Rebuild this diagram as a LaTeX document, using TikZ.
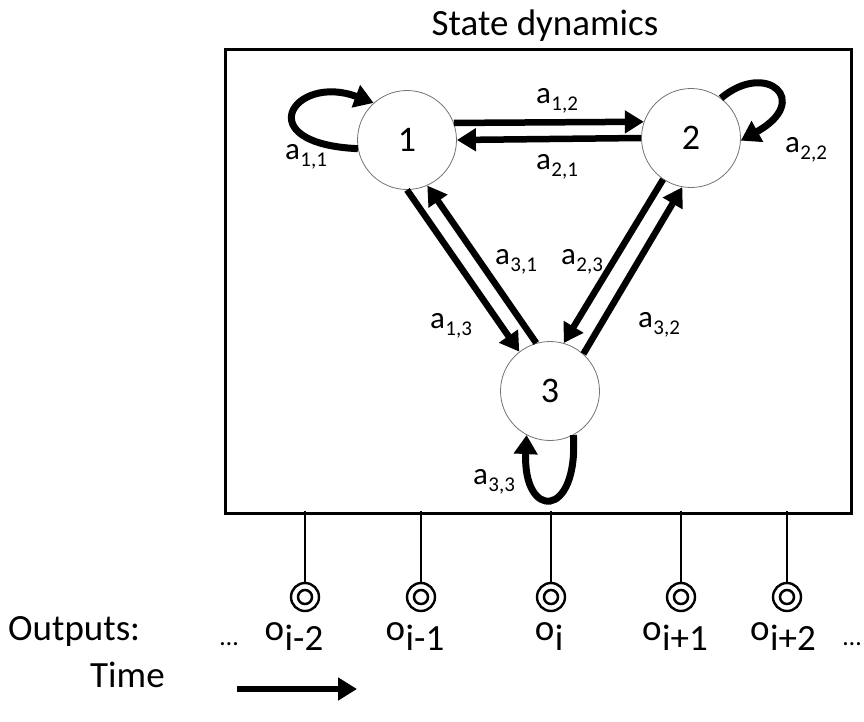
\documentclass[tikz,border=0pt]{standalone}
\usepackage{fontspec}
\setmainfont{Carlito}
\usetikzlibrary{arrows.meta}
\newcommand\asub[2]{#1\kern0.5pt\raisebox{-7pt}{\fontsize{21}{21}\selectfont #2}}
\newcommand\osub[1]{o\kern0.5pt\raisebox{-10pt}{#1}}
\begin{document}
\begin{tikzpicture}[x=1pt,y=-1pt,
  state/.style={circle, draw=black!55, line width=0.8pt, minimum size=99pt, inner sep=0pt, font=\fontsize{36}{36}\selectfont},
  arr/.style={line width=6.5pt, -{Triangle[length=19pt,width=22pt]}},
  loopar/.style={line width=7pt, -{Triangle[length=19pt,width=23pt]}},
  lab/.style={font=\fontsize{31}{31}\selectfont, inner sep=0pt},
  big/.style={font=\fontsize{37}{37}\selectfont, inner sep=0pt},
  dots/.style={font=\fontsize{26}{26}\selectfont, inner sep=0pt},
  stem/.style={line width=2.5pt},
  mk/.style={circle, draw, line width=2.4pt, minimum size=28pt, inner sep=0pt},
  frame/.style={draw, line width=3pt, inner sep=0pt}
]
\useasboundingbox (0,0) rectangle (864,721);

% title and frame
\node[big, anchor=base] (title) at (545,35) {State dynamics};
\node[frame, minimum width=626pt, minimum height=464pt] (box) at (538,281) {};

% states
\node[state] (n1) at (407,140) {1};
\node[state] (n2) at (691,138) {2};
\node[state] (n3) at (550,391) {3};

% transitions
\draw[arr] (n1.20) -- (n2.161);
\draw[arr] (n2.180) -- (n1.0);
\draw[arr] (n1.270) -- (n3.128);
\draw[arr] (n3.106) -- (n1.294);
\draw[arr] (n2.236) -- (n3.74);
\draw[arr] (n3.48) -- (n2.260);

% self loops
\draw[loopar] (n1.190) .. controls +(-110,-5) and +(-80,-30) .. (n1.132);
\draw[loopar] (n2.53) .. controls +(45,-38) and +(72,-40) .. (n2.-3);
\draw[loopar] (n3.-62) .. controls +(5,85) and +(-4,85) .. (n3.-118);

% transition labels
\node[lab] (l12) at (557,101) {\asub{a}{1,2}};
\node[lab] (l21) at (557,167) {\asub{a}{2,1}};
\node[lab] (l11) at (306,157) {\asub{a}{1,1}};
\node[lab] (l22) at (806,150) {\asub{a}{2,2}};
\node[lab] (l31) at (516,262) {\asub{a}{3,1}};
\node[lab] (l23) at (582,262) {\asub{a}{2,3}};
\node[lab] (l13) at (451,326) {\asub{a}{1,3}};
\node[lab] (l32) at (659,325) {\asub{a}{3,2}};
\node[lab] (l33) at (494,482) {\asub{a}{3,3}};

% outputs
\foreach \i/\x in {1/305,2/421,3/551,4/681,5/787}{
  \node[mk] (m\i) at (\x,597) {};
  \draw[stem] (m\i.center) circle[radius=7pt];
  \draw[stem] (m\i.north) -- ([yshift=4pt]m\i |- box.south);
}
\node[big, anchor=base] (o1) at (294,640) {\osub{i-2}};
\node[big, anchor=base] (o2) at (415,640) {\osub{i-1}};
\node[big, anchor=base] (o3) at (549,640) {\osub{i}};
\node[big, anchor=base] (o4) at (675,640) {\osub{i+1}};
\node[big, anchor=base] (o5) at (783,640) {\osub{i+2}};
\node[dots, anchor=base] (d1) at (229,645) {…};
\node[dots, anchor=base] (d2) at (852,645) {…};

\node[big, anchor=base west] (outl) at (8,640) {Outputs:};
\node[big, anchor=base west] (timel) at (90,687) {Time};
\coordinate (t0) at (237,689);
\coordinate (t1) at (357,689);
\draw[arr] (t0) -- (t1);
\end{tikzpicture}
\end{document}
